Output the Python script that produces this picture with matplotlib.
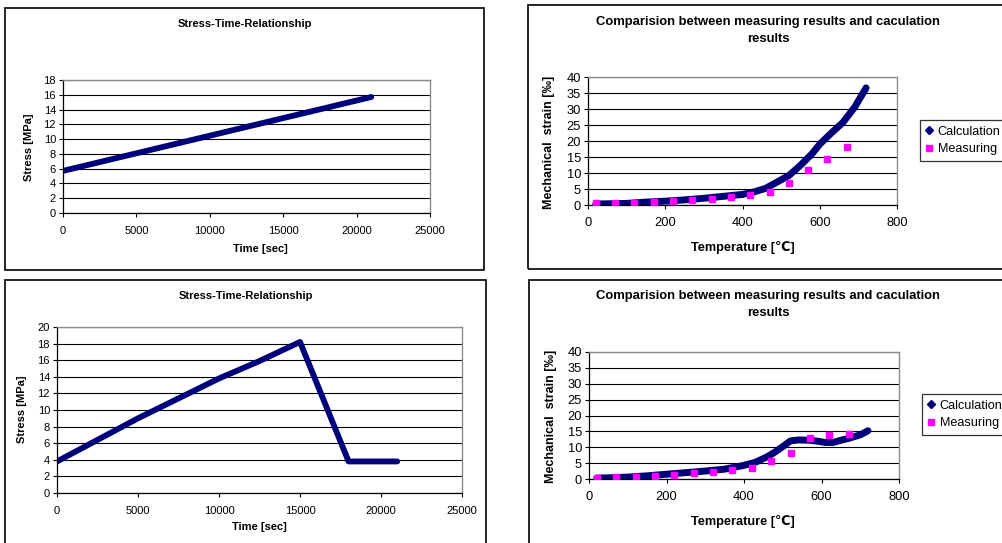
import matplotlib
matplotlib.use("Agg")
import matplotlib.pyplot as plt
from matplotlib.lines import Line2D
from matplotlib.patches import Rectangle

plt.rcParams["font.family"] = ["Liberation Sans", "DejaVu Sans"]

W, H = 1002, 543
NAVY = "#00007a"
MAGENTA = "#ff00ff"

# Stress-time, test 1
time_a = [0, 21000]
stress_a = [5.7, 15.7]

# Stress-time, test 2
time_b = [0, 2500, 5000, 7500, 10000, 12500, 15000, 18000, 21000]
stress_b = [3.8, 6.4, 9.0, 11.4, 13.8, 15.9, 18.2, 3.8, 3.8]

# Calculation curves
temp_calc_a = [20, 60, 100, 150, 200, 250, 300, 350, 400, 430, 460, 490,
               520, 550, 580, 600, 630, 660, 690, 720]
strain_calc_a = [0.3, 0.4, 0.5, 0.9, 1.2, 1.6, 2.1, 2.7, 3.3, 4.1, 5.2, 7.2,
                 9.2, 12.4, 16.0, 19.0, 22.5, 25.8, 30.5, 36.6]

temp_calc_b = [20, 60, 100, 150, 200, 250, 300, 350, 400, 430, 460, 480, 500,
               520, 540, 570, 590, 610, 630, 650, 670, 700, 720]
strain_calc_b = [0.3, 0.4, 0.6, 1.0, 1.5, 2.0, 2.5, 3.1, 4.3, 5.3, 7.0, 8.5,
                 10.2, 12.0, 12.3, 12.2, 11.9, 11.5, 11.5, 12.2, 12.8, 13.9, 15.2]

# Measured points
temp_meas = [20, 70, 120, 170, 220, 270, 320, 370, 420, 470, 520, 570, 620, 670]
strain_meas_a = [0.5, 0.6, 0.5, 0.8, 1.1, 1.5, 1.8, 2.4, 3.0, 4.0, 7.0, 10.8, 14.3, 18.0]
strain_meas_b = [0.2, 0.6, 0.6, 0.9, 1.3, 1.8, 2.2, 2.8, 3.4, 5.6, 8.3, 13.0, 14.0, 14.3]


def fx(px):
    return px / W


def fy(py):
    return 1 - py / H


def add_axes(fig, left, right, top, bottom):
    return fig.add_axes([fx(left), fy(bottom), fx(right - left), (bottom - top) / H])


def style(ax, ymax, ystep, xmax, xstep, fs):
    ax.set_ylim(0, ymax)
    ax.set_xlim(0, xmax)
    ax.set_yticks(range(0, ymax + 1, ystep))
    ax.set_xticks(range(0, xmax + 1, xstep))
    ax.yaxis.grid(True, color="black", linewidth=0.8)
    ax.set_axisbelow(True)
    for side in ["top", "right"]:
        ax.spines[side].set_color("#8c8c8c")
        ax.spines[side].set_linewidth(1.0)
    for side in ["left", "bottom"]:
        ax.spines[side].set_color("black")
        ax.spines[side].set_linewidth(0.9)
    ax.tick_params(direction="out", length=3, width=0.8, labelsize=fs, pad=2)
    ax.tick_params(axis="x", pad=6)


def frame(fig, left, top, right, bottom):
    fig.patches.append(Rectangle((fx(left), fy(bottom)), fx(right - left), (bottom - top) / H,
                                 transform=fig.transFigure, fill=False,
                                 edgecolor="black", linewidth=1.2))


fig = plt.figure(figsize=(W / 100, H / 100), dpi=100)

frame(fig, 5, 8, 484, 270)
frame(fig, 528, 5, 1010, 269)
frame(fig, 5, 280, 486, 560)
frame(fig, 529, 280, 1010, 560)

# Top left
ax1 = add_axes(fig, 63, 430, 80, 213)
ax1.plot(time_a, stress_a, color=NAVY, linewidth=4.2, solid_capstyle="round")
style(ax1, 18, 2, 25000, 5000, 8)
fig.text(fx(245), fy(24), "Stress-Time-Relationship", ha="center", va="center",
         fontsize=8, fontweight="bold")
fig.text(fx(260), fy(249), "Time [sec]", ha="center", va="center",
         fontsize=8, fontweight="bold")
fig.text(fx(29), fy(147), "Stress [MPa]", ha="center", va="center", rotation=90,
         fontsize=8, fontweight="bold")

# Bottom left
ax3 = add_axes(fig, 57, 462, 327, 493)
ax3.plot(time_b, stress_b, color=NAVY, linewidth=4.2, solid_capstyle="round")
style(ax3, 20, 2, 25000, 5000, 8)
fig.text(fx(246), fy(296), "Stress-Time-Relationship", ha="center", va="center",
         fontsize=8, fontweight="bold")
fig.text(fx(259), fy(527), "Time [sec]", ha="center", va="center",
         fontsize=8, fontweight="bold")
fig.text(fx(22), fy(409), "Stress [MPa]", ha="center", va="center", rotation=90,
         fontsize=8, fontweight="bold")

handles = [
    Line2D([], [], color=NAVY, marker="D", linestyle="none", markersize=4),
    Line2D([], [], color=MAGENTA, marker="s", linestyle="none", markersize=4.5),
]
labels = ["Calculation", "Measuring"]

for left, right, top, bottom, temp_c, strain_c, strain_m, off, leg in [
    (588, 897, 77, 205, temp_calc_a, strain_calc_a, strain_meas_a, 0, (920, 120)),
    (589, 899, 352, 479, temp_calc_b, strain_calc_b, strain_meas_b, 274, (922, 394)),
]:
    ax = add_axes(fig, left, right, top, bottom)
    ax.plot(temp_c, strain_c, color=NAVY, linewidth=5.0, solid_capstyle="round", zorder=2)
    ax.plot(temp_meas, strain_m, color=MAGENTA, marker="s", linestyle="none",
            markersize=4.8, zorder=3)
    style(ax, 40, 5, 800, 200, 9.3)
    fig.text(fx(768), fy(22 + off), "Comparision between measuring results and caculation",
             ha="center", va="center", fontsize=9.4, fontweight="bold")
    fig.text(fx(768), fy(39 + off), "results", ha="center", va="center",
             fontsize=9.4, fontweight="bold")
    fig.text(fx(743), fy(247 + off), "Temperature [\u2103]", ha="center", va="center",
             fontsize=9.2, fontweight="bold")
    fig.text(fx(549 + (2 if off else 0)), fy(142 + off), "Mechanical  strain [\u2030]",
             ha="center", va="center", rotation=90, fontsize=9, fontweight="bold")
    lg = fig.legend(handles, labels, loc="upper left",
                    bbox_to_anchor=(fx(leg[0]), fy(leg[1])),
                    fontsize=9.1, frameon=True, fancybox=False, handlelength=0.6,
                    handletextpad=0.35, borderpad=0.45, labelspacing=0.45,
                    borderaxespad=0)
    lg.get_frame().set_edgecolor("black")
    lg.get_frame().set_linewidth(0.9)

fig.savefig("out.png", dpi=100)
